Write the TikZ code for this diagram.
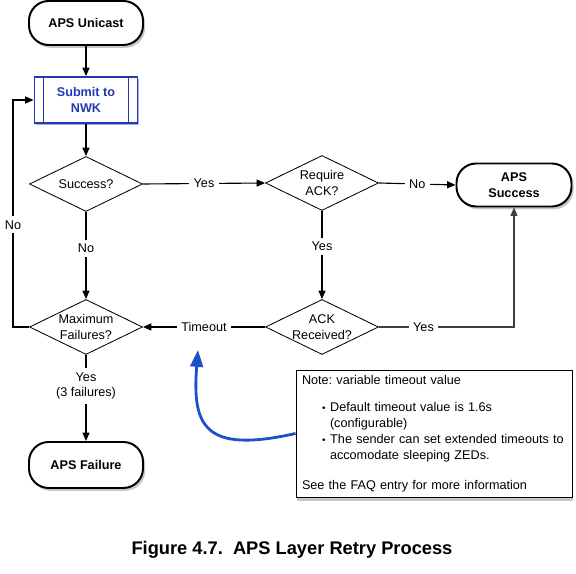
\documentclass[tikz,border=0pt]{standalone}
\usepackage{fontspec}
\setmainfont{Liberation Sans}
\usepackage{tikz}
\usetikzlibrary{arrows.meta}
\usetikzlibrary{shapes.geometric}
\usetikzlibrary{shadows}
\usetikzlibrary{calc}
\definecolor{nwkblue}{RGB}{36,56,178}
\definecolor{pointblue}{RGB}{30,80,204}

\begin{document}
\frenchspacing
\begin{tikzpicture}[
  font=\fontsize{9}{11}\selectfont,
  startstop/.style={draw,line width=1.4pt,rounded corners=14pt,minimum width=2.85cm,minimum height=1.1cm,align=center,fill=white,font=\fontsize{9}{11}\selectfont\bfseries,drop shadow={shadow xshift=1.5pt,shadow yshift=-2pt,opacity=.45}},
  decision/.style={diamond,draw,line width=0.6pt,aspect=2.05,minimum width=2.825cm,minimum height=1.375cm,inner sep=0pt,align=center},
  flow/.style={-{Triangle[length=6pt,width=5pt]},line width=0.8pt},
  lbl/.style={fill=white,inner sep=3pt,align=center}
]
\useasboundingbox (0,0) rectangle (14.4,14.35);
\node[startstop] (unicast) at (2.15,13.775) {APS Unicast};
\node[draw=nwkblue,line width=1.3pt,text=nwkblue,fill=white,minimum width=2.575cm,minimum height=1.15cm,align=center,font=\fontsize{9}{11}\selectfont\bfseries,drop shadow={shadow xshift=1.2pt,shadow yshift=-1.5pt,opacity=.4,fill=nwkblue}] (submit) at (2.15,11.85) {Submit to\\NWK};
\draw[nwkblue,line width=0.9pt] ([xshift=0.25cm]submit.north west) -- ([xshift=0.25cm]submit.south west);
\draw[nwkblue,line width=0.9pt] ([xshift=-0.25cm]submit.north east) -- ([xshift=-0.25cm]submit.south east);
\node[decision] (success) at (2.15,9.75) {Success?};
\node[decision] (require) at (8.05,9.775) {Require\\ACK?};
\node[startstop,minimum width=2.875cm,minimum height=1.075cm] (apsok) at (12.85,9.725) {APS\\Success};
\node[decision] (ackrec) at (8.05,6.175) {ACK\\Received?};
\node[decision] (maxfail) at (2.15,6.175) {Maximum\\Failures?};
\node[startstop,minimum height=1.15cm] (apsfail) at (2.15,2.725) {APS Failure};
\node[draw,fill=white,line width=0.6pt,minimum width=6.9cm,minimum height=3.175cm,text width=6.6cm,inner xsep=0.15cm,align=left,font=\fontsize{9}{11.3}\selectfont,drop shadow={shadow xshift=0.5pt,shadow yshift=-2.5pt,opacity=.45}] (note) at (10.85,3.5125) {Note: variable timeout value\\[8.5pt]
\hspace*{0.5cm}{\scriptsize\textbullet}\hspace{0.12cm}Default timeout value is 1.6s\\
\hspace*{0.7cm}(configurable)\\
\hspace*{0.5cm}{\scriptsize\textbullet}\hspace{0.12cm}The sender can set extended timeouts to\\
\hspace*{0.7cm}accomodate sleeping ZEDs.\\[10pt]
See the FAQ entry for more information};
\node[font=\fontsize{13}{15}\selectfont\bfseries] (caption) at (7.3,0.6) {Figure 4.7.\hspace{0.55em}APS Layer Retry Process};
\coordinate (loop) at (0.325,6.175);
\coordinate (tip) at (4.95,5.6);
\draw[flow] (unicast) -- (submit);
\draw[flow] (submit) -- (success);
\draw[flow] (success.east) -- node[lbl] {Yes} (require.west);
\draw[flow] (require.east) -- node[lbl] {No} (apsok.west);
\draw[flow] (require.south) -- node[lbl,pos=0.4] {Yes} (ackrec.north);
\draw[flow,black!75] (ackrec.east) -- node[lbl,text=black,pos=0.33] {Yes} (apsok.south |- ackrec.east) -- (apsok.south);
\draw[flow] (ackrec.west) -- node[lbl] (timeout) {Timeout} (maxfail.east);
\draw[flow] (success.south) -- node[lbl,pos=0.42] {No} (maxfail.north);
\draw[flow] (maxfail.west) -- (loop) -- node[lbl,pos=0.45] {No} (loop |- submit.west) -- (submit.west);
\draw[flow] (maxfail.south) -- node[lbl,pos=0.36] {Yes\\(3 failures)} (apsfail.north);
\draw[pointblue,line width=2pt,-{Triangle[length=12pt,width=9pt]}] (note.west) .. controls (5.1,3.0) and (4.8,3.7) .. (tip);
\end{tikzpicture}
\end{document}
